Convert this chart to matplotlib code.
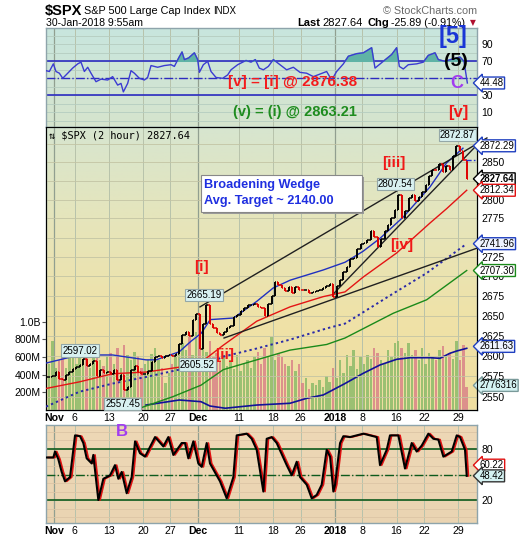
import numpy as np
import matplotlib
matplotlib.use('Agg')
import matplotlib.pyplot as plt
import matplotlib.transforms as mtransforms
from matplotlib import font_manager
from matplotlib.ticker import NullLocator
from matplotlib.patches import Rectangle
from matplotlib.colors import LinearSegmentedColormap

plt.rcParams['font.family'] = ['Liberation Sans', 'DejaVu Sans']

W, H = 520, 540

# x axis: trading day index, 0 = 1-Nov-2017
date_pos = [0, 3, 8, 13, 17, 21, 27, 32, 36, 41, 45, 50, 54, 59]
date_lbl = ['Nov', '6', '13', '20', '27', 'Dec', '11', '18', '26', '2018', '8', '16', '22', '29']
month_lbl = ['Nov', 'Dec', '2018']

# 2 hour bars, two per trading day from 31-Oct, last one 30-Jan
closes = [2574, 2575, 2580, 2572, 2570, 2577, 2580, 2584, 2586, 2589,
          2596, 2588, 2590, 2593, 2575, 2582, 2579, 2580, 2578, 2582,
          2570, 2576, 2558, 2562, 2583, 2587, 2580, 2578, 2578, 2581,
          2592, 2598, 2600, 2597, 2600, 2601, 2600, 2602, 2614, 2626,
          2630, 2624, 2645, 2652, 2608, 2640, 2663, 2640, 2635, 2628,
          2626, 2629, 2634, 2637, 2648, 2651, 2656, 2660, 2663, 2664,
          2665, 2661, 2660, 2650, 2665, 2675, 2692, 2689, 2685, 2681,
          2686, 2679, 2686, 2683, 2682, 2683, 2679, 2680, 2681, 2682,
          2685, 2687, 2690, 2673, 2688, 2695, 2705, 2712, 2722, 2723,
          2735, 2742, 2743, 2747, 2758, 2751, 2738, 2748, 2758, 2767,
          2776, 2786, 2806, 2776, 2785, 2802, 2806, 2798, 2804, 2810,
          2820, 2832, 2840, 2839, 2848, 2837, 2845, 2839, 2858, 2872,
          2865, 2853, 2828]

# volume per bar, millions
volume_m = [520, 780, 480, 560, 750, 480, 600, 680, 520, 700,
            580, 640, 470, 600, 690, 560, 500, 610, 640, 520,
            700, 480, 740, 620, 560, 650, 610, 480, 520, 560,
            630, 700, 560, 480, 300, 420, 520, 600, 700, 760,
            680, 820, 620, 880, 900, 720, 660, 780, 600, 640,
            540, 620, 500, 560, 460, 620, 440, 520, 560, 480,
            600, 660, 520, 700, 600, 820, 560, 640, 600, 520,
            500, 560, 440, 520, 300, 360, 240, 300, 280, 340,
            260, 380, 320, 480, 360, 560, 420, 620, 500, 680,
            460, 600, 520, 620, 580, 700, 640, 560, 520, 680,
            600, 760, 780, 700, 640, 760, 620, 680, 560, 700,
            520, 640, 600, 560, 680, 720, 600, 640, 580, 780,
            560, 740, 260]

# moving averages (day index, value)
ma20_x = [-1.17, 3.69, 8.57, 13.43, 14.9, 18.3, 20.0, 21.5, 22.8, 26.2, 29.6, 32.0, 34.5,
          39.3, 42.5, 45.1, 47.6, 51.0, 54.9, 57.3, 59.7]
ma20_v = [2591, 2601, 2601, 2595, 2595, 2605, 2618, 2628, 2645, 2647, 2668, 2685, 2695,
          2708, 2718, 2732, 2749, 2777, 2817, 2849, 2869]
ma50_x = [-1.17, 3.69, 8.57, 13.43, 18.29, 21.46, 24.7, 29.6, 34.45, 39.31, 42.48, 45.15,
          50.03, 54.89, 57.33, 60.25]
ma50_v = [2560, 2568, 2578, 2580, 2586, 2592, 2613, 2643, 2661, 2674, 2680, 2699,
          2730, 2769, 2788, 2812.34]
ma100_x = [-1.17, 3.69, 8.57, 13.43, 18.29, 21.46, 24.72, 29.59, 34.45, 39.81, 42.48,
           49.53, 54.4, 60.25]
ma100_v = [2538, 2556, 2566, 2574, 2583, 2586, 2599, 2609, 2620, 2634, 2640,
           2678, 2704, 2741.96]
ma200_x = [12.45, 17.33, 21.46, 24.72, 29.59, 34.45, 39.81, 42.48, 49.53, 54.4, 60.25]
ma200_v = [2536, 2550, 2564, 2583, 2595, 2607, 2614, 2622, 2653, 2670, 2707.30]
vma_x = [13.43, 18.29, 21.46, 22.77, 25.0, 29.59, 34.45, 36.89, 39.31, 42.5, 45.15,
         47.59, 50.03, 52.0, 54.9, 56.35, 57.8, 58.8, 60.25]
vma_v = [56, 113, 94, 45, 20, 56, 76, 132, 170, 300, 415,
         509, 573, 591, 591, 584, 641, 667, 697]

# trend lines (day index, price)
wedge_top = ([21.31, 63.2], [2661, 2883])
wedge_bot = ([24.82, 61.7], [2622, 2736])
channel = ([40.73, 61.7], [2677, 2873])

# RSI(14)
rsi_x = [-1.17, -0.68, -0.10, 0.29, 0.78, 1.27, 2.0, 2.72, 3.46, 3.94, 4.43, 4.92, 5.40,
         6.13, 6.86, 7.84, 8.56, 9.29, 9.78, 10.12, 10.75, 11.24, 11.73, 12.46, 13.19,
         13.67, 14.16, 15.13, 16.11, 17.08, 17.57, 18.20, 18.69, 19.03, 19.66, 20.49,
         20.97, 21.22, 21.80, 22.43, 22.92, 23.65, 24.62, 25.35, 25.84, 26.81, 28.03,
         28.76, 29.39, 29.97, 30.56, 31.29, 32.02, 32.99, 33.96, 34.94, 35.91, 36.88,
         37.86, 38.83, 39.80, 40.53, 41.26, 42.24, 42.97, 44.18, 45.16, 46.37, 46.86,
         48.07, 49.29, 50.02, 50.41, 50.99, 51.72, 52.94, 53.91, 54.64, 55.62, 56.10,
         57.08, 58.29, 59.27, 59.85, 60.34]
rsi_v = [59, 58, 67, 58, 56, 50, 56, 62, 67, 69, 58, 63, 56,
         46, 49, 48, 52, 42, 44, 34, 44, 59, 56, 50, 48,
         51, 65, 63, 65, 66, 64, 74, 81, 72, 74, 80,
         72, 57, 66, 70, 58, 51, 50, 54, 60, 66, 71,
         69, 72, 62, 60, 64, 72, 66, 60, 63, 57, 56,
         52, 55, 58, 48, 58, 67, 76, 79, 80, 86, 62,
         70, 78, 86, 64, 61, 66, 67, 69, 77, 80, 72,
         70, 73, 75, 70, 44.48]

# Full stochastics
sto_x = [-1.07, -0.10, 0.15, 0.63, 1.12, 1.61, 2.34, 3.07, 3.80, 4.28, 4.77, 5.50, 5.74,
         6.47, 7.20, 8.18, 8.90, 9.39, 9.88, 10.61, 11.34, 11.83, 12.55, 13.29, 14.75,
         15.96, 16.69, 17.42, 18.64, 19.12, 19.61, 20.34, 21.07, 21.56, 22.29, 22.77,
         24.23, 25.21, 26.18, 26.67, 28.13, 28.86, 29.59, 30.56, 31.05, 31.78, 32.51,
         33.97, 34.70, 35.43, 35.92, 36.89, 37.62, 38.35, 39.08, 39.81, 40.30, 40.78,
         41.03, 41.76, 42.24, 43.21, 45.16, 47.11, 47.59, 48.57, 49.05, 50.27, 51.24,
         52.22, 52.95, 53.68, 54.65, 55.38, 56.11, 56.84, 58.06, 58.79, 59.27, 60.00, 60.25]
sto_v = [70, 70, 77, 68, 53, 42, 47, 96, 95, 87, 69, 63, 73,
         20, 45, 49, 61, 45, 53, 28, 47, 89, 75, 71, 94,
         83, 94, 73, 87, 87, 69, 89, 63, 59, 87, 63,
         42, 22, 47, 96, 98, 92, 79, 30, 92, 94, 87,
         61, 49, 65, 47, 38, 22, 26, 38, 79, 71, 30,
         38, 87, 95, 94, 98, 94, 61, 79, 96, 96, 57,
         87, 77, 84, 98, 92, 91, 71, 77, 96, 94, 79, 48.42]

names = {f.name for f in font_manager.fontManager.ttflist}
narrow = 'Liberation Sans Narrow' in names


def px(x, y):
    return x / W, 1 - y / H


def gradient(ax, colors):
    cmap = LinearSegmentedColormap.from_list('bg', colors)
    ax.imshow(np.linspace(0, 1, 200).reshape(-1, 1), cmap=cmap, origin='upper',
              extent=[0, 1, 0, 1], transform=ax.transAxes, aspect='auto', zorder=0)


fig = plt.figure(figsize=(W / 100, H / 100), dpi=100)
fig.patch.set_facecolor('white')

L, Wd = 46 / W, 431 / W
ax_rsi = fig.add_axes([L, 1 - 127 / H, Wd, 99 / H])
ax_vol = fig.add_axes([L, 1 - 410 / H, Wd, 283 / H])
ax_sto = fig.add_axes([L, 1 - 523 / H, Wd, 98 / H])
ax_px = ax_vol.twinx()
XL = (-1.17, 61.75)

gradient(ax_rsi, ['#c8e6de', '#d6e4cd'])
gradient(ax_vol, ['#d7e5cf', '#e6e5bb', '#efe2a8', '#f0dea0'])
gradient(ax_sto, ['#eed8b6', '#ead4b2'])

for ax in (ax_rsi, ax_vol, ax_sto):
    for p, lab in zip(date_pos, date_lbl):
        dark = lab in month_lbl
        ax.axvline(p, color='#919f90' if dark else '#b7c2ab', lw=0.9 if dark else 0.7, zorder=1)
    for s in ax.spines.values():
        s.set_color('#8ea4ab')
        s.set_linewidth(1.0)
    ax.set_xlim(XL)

# ---------- RSI panel ----------
rx = np.array(rsi_x)
rv = np.array(rsi_v)
for v in range(0, 110, 10):
    ax_rsi.axhline(v, color='#b5cdc0', lw=0.6, zorder=1)
ax_rsi.axhline(70, color='#2c2cc0', lw=1.2, zorder=2)
ax_rsi.axhline(30, color='#2c2cc0', lw=1.2, zorder=2)
ax_rsi.axhline(50, color='#2c2cc0', lw=1.0, ls='-.', zorder=2)
ax_rsi.fill_between(rx, rv, 70, where=rv > 70, interpolate=True, color='#5fb3a6', zorder=3)
ax_rsi.plot(rx, rv, color='#3b3bd2', lw=1.0, zorder=4)
ax_rsi.set_ylim(-7.3, 109.2)
ax_rsi.yaxis.tick_right()
ax_rsi.set_yticks([10, 30, 70, 90])
ax_rsi.tick_params(axis='y', length=0, pad=3, labelsize=7.5)
ax_rsi.set_xticks([])

# ---------- price / volume panel ----------
cl = np.array(closes, dtype=float)
xb = np.arange(len(cl)) * 0.5 - 0.75
prev = np.r_[cl[0], cl[:-1]]
up = cl >= prev
bar_col = np.where(up, 'black', '#e00000')
vol_col = np.where(up, '#8dbb6a', '#d98488')

ax_vol.bar(xb, np.array(volume_m) * 1e6, width=0.36, color=vol_col, alpha=0.85, zorder=2)
ax_vol.plot(vma_x, np.array(vma_v) * 1e6, color='#12129a', lw=1.2, zorder=3)
ax_vol.set_ylim(0, 3.198e9)
ax_vol.set_yticks([2e8, 4e8, 6e8, 8e8, 1e9])
ax_vol.set_yticklabels(['200M', '400M', '600M', '800M', '1.0B'])
ax_vol.tick_params(axis='y', length=3, pad=1, labelsize=7.5, color='#555555')
ax_vol.set_xticks(date_pos)
ax_vol.set_xticklabels(date_lbl)
ax_vol.tick_params(axis='x', length=0, pad=2, labelsize=7.6)

ax_px.set_yscale('log')
ax_px.set_ylim(2534, 2898)
pticks = [2550, 2575, 2600, 2625, 2650, 2675, 2700, 2725, 2775, 2800, 2850]
ax_px.set_yticks(pticks)
ax_px.set_yticklabels([str(t) for t in pticks])
ax_px.yaxis.set_minor_locator(NullLocator())
ax_px.tick_params(axis='y', length=0, pad=3, labelsize=7.5)
ax_px.set_xlim(XL)
for t in range(2550, 2876, 25):
    ax_px.axhline(t, color='#c3c4a4', lw=0.6, zorder=0)

ax_px.plot(ma100_x, ma100_v, color='#2a2aa8', lw=1.4, ls=(0, (1.2, 1.6)), zorder=3)
ax_px.plot(ma200_x, ma200_v, color='#1a8a1a', lw=1.0, zorder=3)
ax_px.plot(ma50_x, ma50_v, color='#e41414', lw=1.0, zorder=3)
ax_px.plot(ma20_x, ma20_v, color='#2030c0', lw=1.0, zorder=3)
for xs, ys in (wedge_top, wedge_bot, channel):
    ax_px.plot(xs, ys, color='#202020', lw=1.0, zorder=4, clip_on=False)

ax_px.vlines(xb, np.minimum(prev, cl), np.maximum(prev, cl), colors=bar_col, lw=1.4, zorder=5)
ax_px.hlines(cl, xb, xb + 0.22, colors=bar_col, lw=1.1, zorder=5)
ax_px.hlines(prev, xb - 0.22, xb, colors=bar_col, lw=1.1, zorder=5)
ax_px.hlines(2853, 60.2, 61.5, colors='#2030d0', lw=1.0, ls='--', zorder=5)

for lab in ax_vol.get_xticklabels():
    if lab.get_text() in month_lbl:
        lab.set_fontweight('bold')

# ---------- stochastics panel ----------
for v in range(0, 110, 10):
    ax_sto.axhline(v, color='#dcc5a5', lw=0.6, zorder=1)
ax_sto.axhline(80, color='#0d5a1c', lw=1.2, zorder=2)
ax_sto.axhline(20, color='#0d5a1c', lw=1.2, zorder=2)
ax_sto.axhline(50, color='#0d5a1c', lw=1.0, ls='-.', zorder=2)
shift = mtransforms.offset_copy(ax_sto.transData, fig=fig, x=1.2, y=0, units='points')
ax_sto.plot(sto_x, sto_v, color='#e01010', lw=1.3, zorder=3, transform=shift)
ax_sto.plot(sto_x, sto_v, color='black', lw=1.5, zorder=4)
ax_sto.set_ylim(-7, 108.2)
ax_sto.yaxis.tick_right()
ax_sto.set_yticks([20, 80])
ax_sto.tick_params(axis='y', length=0, pad=3, labelsize=7.5)
ax_sto.set_xticks(date_pos)
ax_sto.set_xticklabels(date_lbl)
ax_sto.tick_params(axis='x', length=0, pad=2, labelsize=7.6)
for lab in ax_sto.get_xticklabels():
    if lab.get_text() in month_lbl:
        lab.set_fontweight('bold')


# ---------- value tags on the right ----------
def tag(ax, y, text, ec, fc='white', bold=False):
    tr = mtransforms.blended_transform_factory(ax.transAxes, ax.transData)
    ax.text(1.006, y, text, transform=tr, ha='left', va='center', fontsize=6.9,
            fontweight='bold' if bold else 'normal', clip_on=False, zorder=20,
            bbox=dict(boxstyle='larrow,pad=0.1', fc=fc, ec=ec, lw=1.0))


tag(ax_px, 2872.29, '2872.29', '#2040c0')
tag(ax_px, 2827.64, '2827.64', 'black', bold=True)
tag(ax_px, 2812.34, '2812.34', '#e01010')
tag(ax_px, 2741.96, '2741.96', '#2040c0', fc='#eef3ff')
tag(ax_px, 2707.30, '2707.30', '#1a8a1a')
tag(ax_px, 2611.63, '2611.63', '#2040c0', fc='#eef3ff')
tag(ax_vol, 2.776e8, '2776316', '#7a9a9a', fc='#d4f2f2')
tag(ax_rsi, 44.48, '44.48', '#2040c0')
tag(ax_sto, 61.0, '60.22', '#e01010')
tag(ax_sto, 48.42, '48.42', '#333333', fc='#d4f2f2')

# ---------- header ----------
fig.text(*px(45, 11), '$SPX', fontsize=10.5, fontweight='bold', va='center')
fig.text(*px(84, 11), 'S&P 500 Large Cap Index', fontsize=7.8, va='center')
fig.text(*px(213, 11), 'INDX', fontsize=7, va='center')
fig.text(*px(477, 11), '\u00a9 StockCharts.com', fontsize=7.8, va='center', ha='right', color='#6a6a6a')
fig.text(*px(46, 23), '30-Jan-2018 9:55am', fontsize=7.6, va='center')
fig.text(*px(297, 23), 'Last', fontsize=8, fontweight='bold', va='center')
fig.text(*px(322, 23), '2827.64', fontsize=8, va='center')
fig.text(*px(367, 23), 'Chg', fontsize=8, fontweight='bold', va='center')
fig.text(*px(391, 23), '-25.89 (-0.91%)', fontsize=7.7, va='center')
fig.text(*px(470, 23), '\u25bc', fontsize=5.5, va='center', color='#b01030',
         family=['DejaVu Sans'])

# ---------- annotations ----------
wave_font = 'Liberation Sans Narrow' if narrow else 'Liberation Sans'
big = 20 if narrow else 17
fig.text(*px(453, 37), '[5]', fontsize=big, fontweight='bold', color='#1a36d6',
         ha='center', va='center', family=[wave_font, 'DejaVu Sans'])
fig.text(*px(456, 62), '(5)', fontsize=big - 3, fontweight='bold', color='black',
         ha='center', va='center', family=[wave_font, 'DejaVu Sans'])
fig.text(*px(457, 84), 'C', fontsize=13, fontweight='bold', color='#a23cf0',
         ha='center', va='center')
fig.text(*px(458, 112), '[v]', fontsize=12, fontweight='bold', color='#f01818',
         ha='center', va='center')
fig.text(*px(228, 82), '[v] = [i] @ 2876.38', fontsize=11, fontweight='bold',
         color='#f41c1c', va='center')
fig.text(*px(233, 112), '(v) = (i) @ 2863.21', fontsize=10.5, fontweight='bold',
         color='#1e8c1e', va='center')
fig.text(*px(122, 431), 'B', fontsize=12, fontweight='bold', color='#a23cf0',
         ha='center', va='center')

fig.text(*px(49, 135), '\u21c5 $SPX (2 hour) 2827.64', fontsize=7.4, va='center',
         family=['DejaVu Sans Mono', 'DejaVu Sans'])

for txt, x, y in (('[i]', 201.5, 267.5), ('[ii]', 225, 354.5),
                  ('[iii]', 394, 162.5), ('[iv]', 401.5, 245)):
    fig.text(*px(x, y), txt, fontsize=11, fontweight='bold', color='#f01818',
             ha='center', va='center', zorder=10)

for txt, x, y in (('2597.02', 80, 350.5), ('2557.45', 122.5, 404),
                  ('2605.52', 197.5, 364.5), ('2665.19', 203.7, 295),
                  ('2807.54', 395.5, 184), ('2872.87', 457.5, 135)):
    fig.text(*px(x, y), txt, fontsize=7, ha='center', va='center', zorder=10,
             bbox=dict(boxstyle='square,pad=0.15', fc='#d8f1f1', ec='#94a8a8', lw=0.8))

# broadening wedge note
bx0, by0 = px(201, 212)
bw, bh = 161 / W, 37 / H
fig.patches.append(Rectangle((bx0 + 2 / W, by0 - 2 / H), bw, bh, transform=fig.transFigure,
                             fc='#9a9a9a', ec='none', zorder=8))
fig.patches.append(Rectangle((bx0, by0), bw, bh, transform=fig.transFigure,
                             fc='white', ec='#888888', lw=0.8, zorder=9))
fig.text(*px(204, 185), 'Broadening Wedge', fontsize=9.2, fontweight='bold',
         color='#1f2fe0', va='center', zorder=10)
fig.text(*px(204, 201), 'Avg. Target ~ 2140.00', fontsize=9.2, fontweight='bold',
         color='#1f2fe0', va='center', zorder=10)

fig.savefig('out.png', dpi=100)
